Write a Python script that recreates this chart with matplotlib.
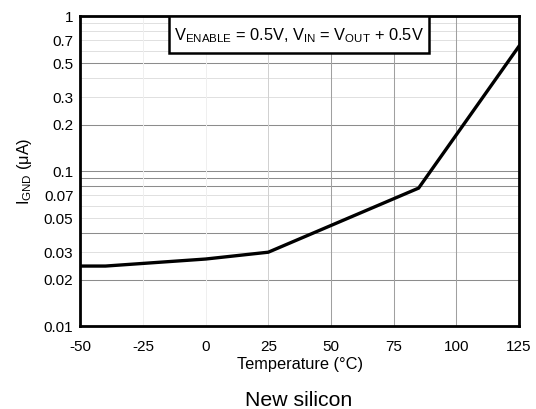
import matplotlib
matplotlib.use("Agg")
import matplotlib.pyplot as plt
from matplotlib.patches import Rectangle

plt.rcParams['font.family'] = ['Liberation Sans', 'DejaVu Sans']
plt.rcParams['mathtext.fontset'] = 'custom'
plt.rcParams['mathtext.rm'] = 'Liberation Sans'
plt.rcParams['mathtext.it'] = 'Liberation Sans'

# Ground current vs. temperature
temperature = [-50, -40, 0, 25, 85, 125]
i_gnd = [0.0245, 0.0245, 0.0272, 0.0301, 0.078, 0.64]

x_ticks = [-50, -25, 0, 25, 50, 75, 100, 125]
y_ticks = [0.01, 0.02, 0.03, 0.05, 0.07, 0.1, 0.2, 0.3, 0.5, 0.7, 1]
y_tick_labels = ["0.01", "0.02", "0.03", "0.05", "0.07", "0.1", "0.2", "0.3", "0.5", "0.7", "1"]

# grid lines: faint minor lines and the heavier reference lines
light_h = [0.03, 0.05, 0.06, 0.07, 0.3, 0.4, 0.6, 0.7, 0.8, 0.9]
dark_h = [0.02, 0.04, 0.08, 0.09, 0.1, 0.2, 0.5]
faint_v = [-25, 0]
light_v = [25]
dark_v = [50, 75, 100]

fig = plt.figure(figsize=(5.36, 4.09), dpi=100)
ax = fig.add_axes([0.150, 0.202, 0.818, 0.758])

ax.set_yscale('log')
ax.set_xlim(-50, 125)
ax.set_ylim(0.01, 1)

for y in light_h:
    ax.axhline(y, color='#e0e0e0', lw=0.7, zorder=1)
for y in dark_h:
    ax.axhline(y, color='#8c8c8c', lw=0.75, zorder=1)
for x in faint_v:
    ax.axvline(x, color='#efefef', lw=0.7, zorder=1)
for x in light_v:
    ax.axvline(x, color='#d0d0d0', lw=0.7, zorder=1)
for x in dark_v:
    ax.axvline(x, color='#a0a0a0', lw=0.75, zorder=1)

ax.plot(temperature, i_gnd, color='black', lw=2.4, zorder=3,
        solid_joinstyle='miter', clip_on=True)

ax.set_xticks(x_ticks)
ax.set_xticklabels([str(v) for v in x_ticks])
ax.set_yticks(y_ticks)
ax.set_yticklabels(y_tick_labels)
ax.yaxis.set_minor_locator(matplotlib.ticker.NullLocator())
ax.tick_params(axis='both', length=0, labelsize=11)
ax.tick_params(axis='x', pad=10)
ax.tick_params(axis='y', pad=5)

for s in ax.spines.values():
    s.set_linewidth(2.0)
    s.set_zorder(4)

ax.set_xlabel('Temperature (°C)', fontsize=11.8, labelpad=2)
ax.set_ylabel(r'I$_{\mathrm{GND}}$ ($\mathrm{\mu}$A)', fontsize=11.8, labelpad=7)

# condition box at top of the plot
box = Rectangle((0.2025, 0.881), 0.593, 0.119, transform=ax.transAxes,
                facecolor='white', edgecolor='black', lw=1.8, zorder=5)
ax.add_patch(box)
ax.text(0.499, 0.938,
        r'V$_{\mathrm{ENABLE}}$ = 0.5V, V$_{\mathrm{IN}}$ = V$_{\mathrm{OUT}}$ + 0.5V',
        transform=ax.transAxes, ha='center', va='center', fontsize=11.8, zorder=6)

fig.text(0.557, 0.0075, 'New silicon', ha='center', va='baseline', fontsize=15.3)

fig.savefig('out.png', dpi=100)
